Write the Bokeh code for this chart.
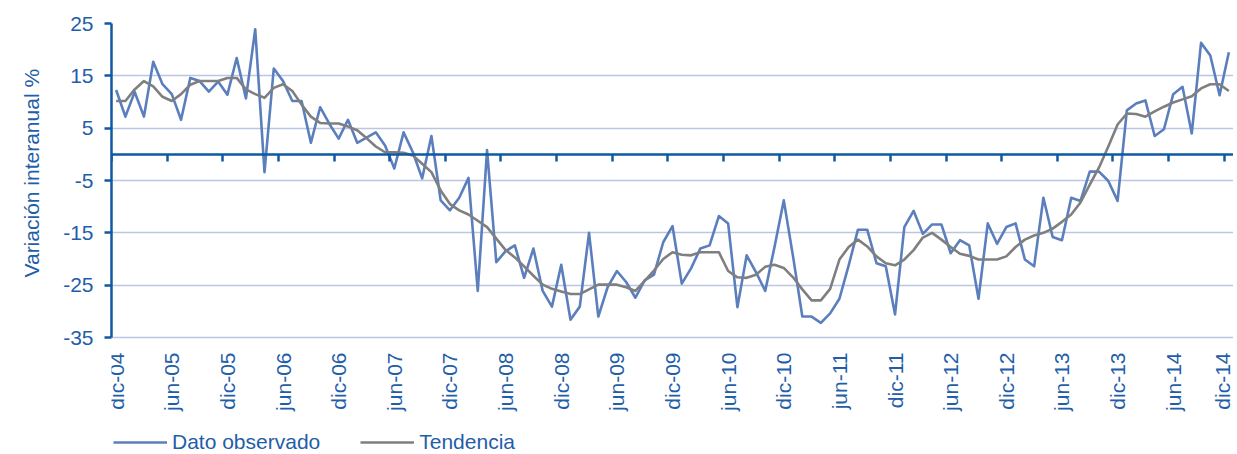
import math
from bokeh.plotting import figure
from bokeh.models import Range1d, FixedTicker, LinearAxis, Grid, Legend, LegendItem, Title
from bokeh.embed import file_html
from bokeh.resources import INLINE

# ---- data ----
months_es = ["ene", "feb", "mar", "abr", "may", "jun", "jul", "ago", "sep", "oct", "nov", "dic"]
categories = ["dic-04"] + [f"{m}-{y:02d}" for y in range(5, 15) for m in months_es]

tick_labels = ["dic-04", "jun-05", "dic-05", "jun-06", "dic-06", "jun-07", "dic-07",
               "jun-08", "dic-08", "jun-09", "dic-09", "jun-10", "dic-10", "jun-11",
               "dic-11", "jun-12", "dic-12", "jun-13", "dic-13", "jun-14", "dic-14"]

y_ticks = [-35, -25, -15, -5, 5, 15, 25]
y_tick_labels = ["-35", "-25", "-15", "-5", "5", "15", "25"]

dato_observado = [
    12.3, 7.2, 11.9, 7.2, 17.7, 13.4, 11.5, 6.6, 14.6, 14.0,
    12.0, 13.9, 11.4, 18.4, 10.7, 23.9, -3.4, 16.4, 14.0, 10.2,
    10.2, 2.2, 9.0, 5.8, 3.0, 6.6, 2.2, 3.2, 4.2, 1.7,
    -2.7, 4.2, 0.4, -4.6, 3.5, -8.8, -10.7, -8.3, -4.5, -26.1,
    0.8, -20.6, -18.5, -17.4, -23.6, -18.0, -26.1, -29.1, -21.1, -31.6,
    -29.1, -15.0, -31.0, -25.4, -22.3, -24.4, -27.4, -24.1, -23.0, -16.8,
    -13.7, -24.7, -21.8, -18.0, -17.4, -11.8, -13.2, -29.2, -19.3, -22.5,
    -26.1, -17.7, -8.8, -19.5, -31.0, -31.0, -32.2, -30.4, -27.6, -21.2,
    -14.4, -14.4, -20.8, -21.4, -30.6, -13.9, -10.8, -15.2, -13.4, -13.4,
    -18.9, -16.4, -17.4, -27.6, -13.2, -17.1, -13.9, -13.2, -20.1, -21.4,
    -8.3, -15.8, -16.4, -8.3, -8.9, -3.3, -3.3, -5.1, -8.9, 8.4,
    9.7, 10.3, 3.5, 4.8, 11.5, 12.9, 4.0, 21.3, 18.9, 11.3,
    19.5,
]

tendencia = [
    10.2, 10.2, 12.4, 14.0, 13.0, 11.0, 10.2, 11.5, 13.3, 14.0,
    14.0, 14.0, 14.6, 14.6, 12.4, 11.5, 10.8, 12.7, 13.4, 12.1,
    9.5, 7.2, 6.0, 5.9, 5.9, 5.3, 4.6, 3.1, 1.5, 0.4,
    0.4, 0.3, -0.2, -1.8, -3.4, -6.9, -9.5, -10.7, -11.5, -12.7,
    -13.9, -16.1, -18.3, -19.7, -21.4, -23.2, -24.9, -25.7, -26.2, -26.7,
    -26.7, -25.8, -24.9, -24.9, -24.9, -25.4, -26.1, -24.2, -22.2, -20.0,
    -18.7, -19.2, -19.3, -18.7, -18.7, -18.7, -22.3, -23.5, -23.6, -23.0,
    -21.5, -21.1, -21.7, -23.5, -25.8, -27.9, -27.9, -25.7, -20.1, -17.7,
    -16.3, -17.6, -19.5, -20.8, -21.2, -20.1, -18.3, -15.9, -15.0, -16.3,
    -17.7, -19.0, -19.4, -20.1, -20.1, -20.1, -19.5, -17.7, -16.3, -15.5,
    -15.0, -14.2, -12.9, -11.5, -9.2, -5.8, -2.5, 1.5, 5.7, 7.8,
    7.7, 7.2, 8.2, 9.1, 9.9, 10.5, 11.1, 12.6, 13.4, 13.4,
    12.1,
]

# ---- styling ----
FONT = "Liberation Sans"
TXT = "#1f5ea8"
AX = "#0f58a3"
GRID = "#bcc6e4"
C_OBS = "#5b7ebd"
C_TREND = "#7f7f7f"

x = list(range(len(categories)))
label_pos = [categories.index(t) for t in tick_labels]
bound_ticks = [k - 0.5 for k in range(0, len(categories), 6)]
y_lo, y_hi = min(y_ticks), max(y_ticks)

# frame spans from the top gridline down to the bottom of the page; the
# value scale (-35..25) occupies its upper 314 px, the rest holds labels + legend
H, TOP = 454, 23
px_per_unit = 314 / (y_hi - y_lo)
y_start = y_hi - (H - TOP) / px_per_unit

p = figure(width=1233, height=H, output_backend="svg", toolbar_location=None,
           x_range=Range1d(-0.5, len(categories) - 0.5), y_range=Range1d(y_start, y_hi),
           x_axis_type=None, y_axis_type=None,
           min_border_left=108, min_border_right=0, min_border_top=TOP, min_border_bottom=0)
p.outline_line_color = None
p.background_fill_color = "white"
p.border_fill_color = "white"

# left axis
yaxis = LinearAxis(ticker=FixedTicker(ticks=y_ticks), bounds=(y_lo, y_hi),
                   major_label_overrides=dict(zip(y_ticks, y_tick_labels)),
                   axis_line_color=AX, axis_line_width=2.5,
                   major_tick_line_color=AX, major_tick_line_width=2.5,
                   major_tick_out=7, major_tick_in=0, minor_tick_line_color=None,
                   major_label_standoff=11, major_label_text_font=FONT,
                   major_label_text_font_size="21px", major_label_text_color=TXT)
p.add_layout(yaxis, "left")
p.add_layout(Grid(dimension=1, ticker=yaxis.ticker, grid_line_color=GRID, grid_line_width=1.5))

# y-axis title, placed along the value scale (starts ~177 px above the frame bottom)
ytitle = Title(text="Variación interanual %", align="left", offset=177, standoff=35,
               text_font=FONT, text_font_size="21px", text_font_style="normal",
               text_color=TXT)
p.add_layout(ytitle, "left")

# category labels, hanging below the -35 line
xaxis = LinearAxis(fixed_location=y_lo, ticker=FixedTicker(ticks=label_pos),
                   major_label_overrides={pos: lbl for pos, lbl in zip(label_pos, tick_labels)},
                   axis_line_color=None, major_tick_line_color=None,
                   major_tick_out=0, major_tick_in=0, minor_tick_line_color=None,
                   major_label_orientation=math.pi / 2, major_label_standoff=15,
                   major_label_text_font=FONT, major_label_text_font_size="21px",
                   major_label_text_color=TXT)
p.add_layout(xaxis, "below")

# series
r_obs = p.line(x, dato_observado, line_color=C_OBS, line_width=2.6, line_join="round")
r_tr = p.line(x, tendencia, line_color=C_TREND, line_width=2.6, line_join="round")

# zero-crossing category axis with tick marks
zaxis = LinearAxis(fixed_location=0, ticker=FixedTicker(ticks=bound_ticks),
                   axis_line_color=AX, axis_line_width=2.5,
                   major_tick_line_color=AX, major_tick_line_width=2.5,
                   major_tick_out=7, major_tick_in=0, minor_tick_line_color=None,
                   major_label_text_color=None)
p.add_layout(zaxis, "below")

legend = Legend(items=[LegendItem(label="Dato observado", renderers=[r_obs]),
                       LegendItem(label="Tendencia", renderers=[r_tr])],
                orientation="horizontal", location=(2, 0),
                glyph_width=54, glyph_height=20, label_standoff=5, spacing=40,
                padding=0, margin=0, border_line_color=None, background_fill_alpha=0,
                label_text_font=FONT, label_text_font_size="21px", label_text_color=TXT)
p.add_layout(legend)

open("out.html", "w").write(file_html(p, INLINE))
